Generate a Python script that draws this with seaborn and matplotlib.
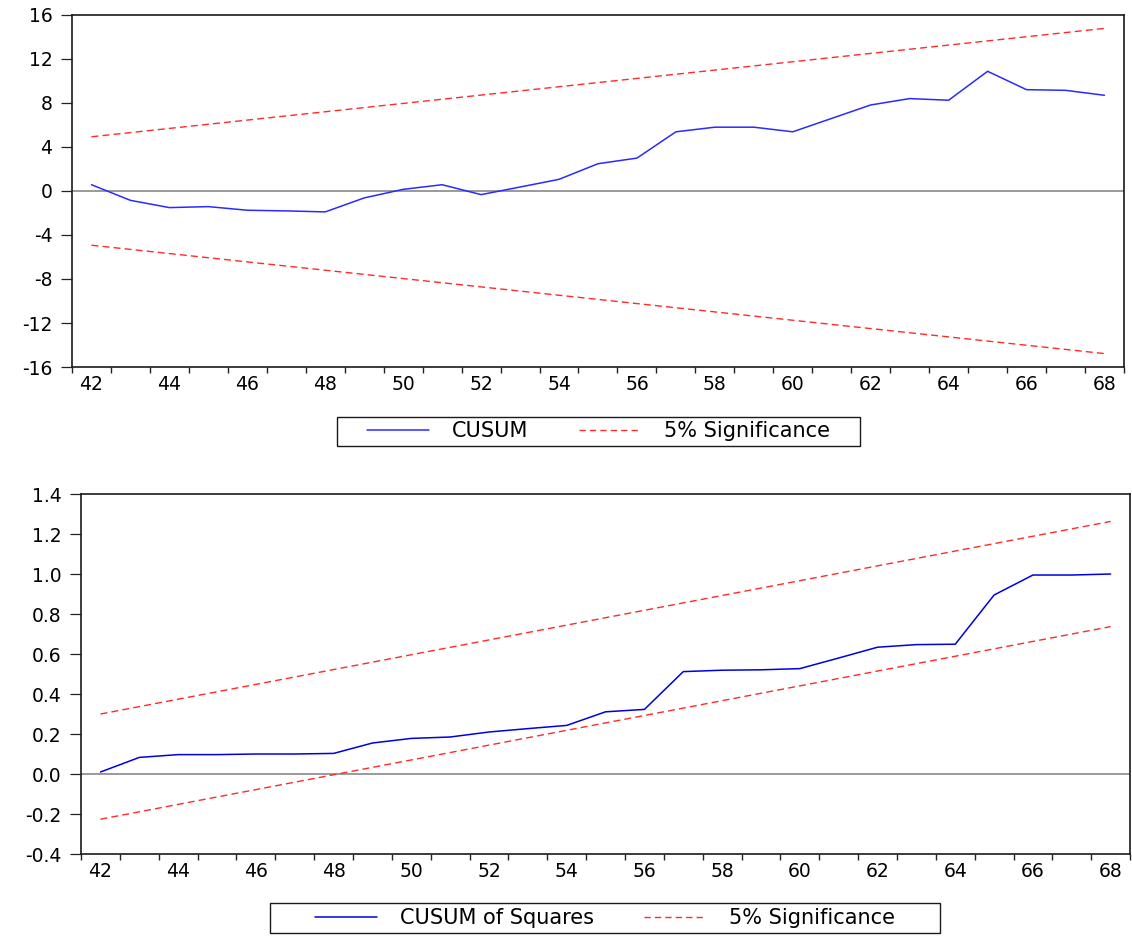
import numpy as np
import matplotlib
matplotlib.use("Agg")
import matplotlib.pyplot as plt
import seaborn as sns
from matplotlib.lines import Line2D
from matplotlib.patches import Rectangle
from matplotlib.ticker import FixedLocator, FormatStrFormatter

# Recursive-residual stability tests, observations 42-68
obs = list(range(42, 69))
cusum = [0.57, -0.85, -1.51, -1.42, -1.75, -1.81, -1.90, -0.63, 0.15, 0.57,
         -0.33, 0.36, 1.06, 2.48, 2.99, 5.38, 5.80, 5.80, 5.38, 6.60,
         7.82, 8.40, 8.25, 10.88, 9.21, 9.15, 8.70]
cusum_sq = [0.010, 0.083, 0.097, 0.097, 0.100, 0.100, 0.103, 0.155, 0.178, 0.185,
            0.210, 0.227, 0.243, 0.311, 0.323, 0.512, 0.519, 0.521, 0.527, 0.580,
            0.634, 0.647, 0.649, 0.895, 0.995, 0.995, 1.000]

# 5% significance bands (straight lines between first and last observation)
band_obs = [42, 68]
cusum_upper = [4.93, 14.78]
cusum_lower = [-4.93, -14.78]
cusumsq_upper = [0.300, 1.263]
cusumsq_lower = [-0.226, 0.737]

cusum_yticks = [-16, -12, -8, -4, 0, 4, 8, 12, 16]
cusumsq_yticks = [-0.4, -0.2, 0.0, 0.2, 0.4, 0.6, 0.8, 1.0, 1.2, 1.4]
xtick_labels = list(range(42, 69, 2))

sns.set_theme(style="white")
plt.rcParams["font.family"] = ["DejaVu Sans"]
plt.rcParams["axes.unicode_minus"] = False
plt.rcParams["text.color"] = "black"

BLUE_TOP = "#2a2aff"
BLUE_BOT = "#0000e0"
RED = "#ff2a2a"
DASH = (0, (5, 3))

fig = plt.figure(figsize=(11.32, 9.36), dpi=100)
ax1 = fig.add_axes([0.0636, 0.6079, 0.9293, 0.3761])
ax2 = fig.add_axes([0.0716, 0.0876, 0.9267, 0.3846])


def style_axis(ax, yticks, ylim, fmt):
    ax.set_xlim(41.5, 68.5)
    ax.set_ylim(*ylim)
    ax.xaxis.set_major_locator(FixedLocator(xtick_labels))
    ax.xaxis.set_minor_locator(FixedLocator(np.arange(41.5, 69.0, 1.0)))
    ax.tick_params(axis="x", which="major", length=0, pad=6, labelsize=13.5,
                   bottom=True, colors="black")
    ax.tick_params(axis="x", which="minor", length=4.5, width=1.0,
                   direction="out", bottom=True, color="#222222")
    ax.yaxis.set_major_locator(FixedLocator(yticks))
    ax.yaxis.set_major_formatter(FormatStrFormatter(fmt))
    ax.tick_params(axis="y", which="major", length=8, width=0.9, pad=6,
                   labelsize=13.5, direction="out", left=True,
                   color="#222222", labelcolor="black")
    for s in ax.spines.values():
        s.set_color("#1a1a1a")
        s.set_linewidth(1.2)
    ax.axhline(0, color="#9a9a9a", lw=1.4, zorder=1)
    ax.set_xlabel("")
    ax.set_ylabel("")


# CUSUM panel
sns.lineplot(x=obs, y=cusum, ax=ax1, color=BLUE_TOP, lw=1.1, legend=False, zorder=3)
sns.lineplot(x=band_obs, y=cusum_upper, ax=ax1, color=RED, lw=1.0,
             linestyle=DASH, legend=False, zorder=2)
sns.lineplot(x=band_obs, y=cusum_lower, ax=ax1, color=RED, lw=1.0,
             linestyle=DASH, legend=False, zorder=2)
style_axis(ax1, cusum_yticks, (-16, 16), "%d")

# CUSUM of squares panel
sns.lineplot(x=obs, y=cusum_sq, ax=ax2, color=BLUE_BOT, lw=1.1, legend=False, zorder=3)
sns.lineplot(x=band_obs, y=cusumsq_upper, ax=ax2, color=RED, lw=1.0,
             linestyle=DASH, legend=False, zorder=2)
sns.lineplot(x=band_obs, y=cusumsq_lower, ax=ax2, color=RED, lw=1.0,
             linestyle=DASH, legend=False, zorder=2)
style_axis(ax2, cusumsq_yticks, (-0.4, 1.4), "%.1f")


def add_legend(label, color, box):
    """Frame drawn as a fixed box; entries centred inside it."""
    x0, y0, w, h = box
    fig.add_artist(Rectangle((x0, y0), w, h, transform=fig.transFigure,
                             facecolor="white", edgecolor="#1a1a1a",
                             linewidth=1.0, zorder=4))
    handles = [Line2D([], [], color=color, lw=1.1),
               Line2D([], [], color=RED, lw=1.0, linestyle=(0, (4.5, 3)))]
    leg = fig.legend(handles, [label, "5% Significance"], loc="center",
                     bbox_to_anchor=(x0 + w / 2, y0 + h / 2), ncol=2,
                     frameon=False, fontsize=15, handlelength=3.0,
                     handletextpad=1.1, borderpad=0.0, borderaxespad=0.0,
                     columnspacing=2.4)
    leg.set_zorder(5)
    for t in leg.get_texts():
        t.set_color("black")
    return leg


add_legend("CUSUM", BLUE_TOP, (0.2977, 0.5235, 0.462, 0.031))
add_legend("CUSUM of Squares", BLUE_BOT, (0.2385, 0.0032, 0.5919, 0.032))

fig.savefig("out.png", dpi=100)
